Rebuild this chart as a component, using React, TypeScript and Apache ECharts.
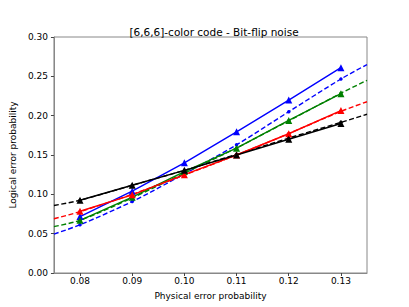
import React, { useEffect, useRef } from "react";
import * as echarts from "echarts";

const titleText = "[6,6,6]-color code - Bit-flip noise";
const xLabel = "Physical error probability";
const yLabel = "Logical error probability";

const pointX = [0.08, 0.09, 0.1, 0.11, 0.12, 0.13];
const fitX = [0.075, 0.08, 0.09, 0.1, 0.11, 0.12, 0.13, 0.135];
const xTicks = [0.08, 0.09, 0.1, 0.11, 0.12, 0.13];

// measured (solid, triangles)
const blueData = [0.0718, 0.1040, 0.1400, 0.1795, 0.2198, 0.2610];
const greenData = [0.0670, 0.0964, 0.1290, 0.1586, 0.1940, 0.2280];
const redData = [0.0785, 0.0994, 0.1250, 0.1500, 0.1770, 0.2065];
const blackData = [0.0925, 0.1115, 0.1305, 0.1500, 0.1700, 0.1900];

// fitted (dashed)
const blueFit = [0.0495, 0.0613, 0.0909, 0.1260, 0.1630, 0.2050, 0.2466, 0.2650];
const greenFit = [0.0590, 0.0670, 0.0955, 0.1270, 0.1590, 0.1935, 0.2285, 0.2450];
const redFit = [0.0690, 0.0780, 0.1000, 0.1245, 0.1500, 0.1772, 0.2055, 0.2177];
const blackFit = [0.0858, 0.0925, 0.1115, 0.1305, 0.1508, 0.1715, 0.1915, 0.2018];

const FONT = "DejaVu Sans";

export default function App() {
  const ref = useRef<HTMLDivElement>(null);
  useEffect(() => {
    if (!ref.current) return;
    const chart = echarts.init(ref.current, undefined, { renderer: "svg" });

    const solid = (name: string, color: string, ys: number[]) => ({
      name,
      type: "line",
      data: pointX.map((x, i) => [x, ys[i]]),
      symbol: "triangle",
      symbolSize: 7,
      showSymbol: true,
      lineStyle: { color, width: 1.4, type: "solid" },
      itemStyle: { color, borderWidth: 0 },
      z: 3,
    });
    const dashed = (name: string, color: string, ys: number[]) => ({
      name,
      type: "line",
      data: fitX.map((x, i) => {
        const isEnd = i === 0 || i === fitX.length - 1;
        return isEnd ? { value: [x, ys[i]], symbol: "none" } : { value: [x, ys[i]] };
      }),
      symbol: "circle",
      symbolSize: 3.5,
      showSymbol: true,
      smooth: 0.3,
      lineStyle: { color, width: 1.4, type: [5, 2.5] },
      itemStyle: { color, borderWidth: 0 },
      z: 2,
    });

    chart.setOption({
      animation: false,
      backgroundColor: "#ffffff",
      textStyle: { fontFamily: FONT },
      title: {
        text: titleText,
        left: 209,
        top: 21,
        textAlign: "center",
        textStyle: { fontFamily: FONT, fontSize: 10.5, fontWeight: "normal", color: "#000" },
      },
      grid: {
        left: 51,
        top: 37,
        right: 42,
        bottom: 34,
        show: true,
        borderColor: "#888",
        borderWidth: 1,
        backgroundColor: "transparent",
      },
      xAxis: {
        type: "value",
        min: 0.075,
        max: 0.135,
        name: xLabel,
        nameLocation: "middle",
        nameGap: 18,
        nameTextStyle: { fontFamily: FONT, fontSize: 9, color: "#000" },
        axisLine: { show: true, lineStyle: { color: "#888", width: 1 } },
        axisTick: { show: true, length: 3, customValues: xTicks, lineStyle: { color: "#444" } },
        axisLabel: {
          customValues: xTicks,
          formatter: (v: number) => v.toFixed(2),
          fontFamily: FONT,
          fontSize: 9,
          color: "#000",
          margin: 3,
        },
        splitLine: { show: false },
      },
      yAxis: {
        type: "value",
        min: 0,
        max: 0.3,
        interval: 0.05,
        name: yLabel,
        nameLocation: "middle",
        nameGap: 28,
        nameTextStyle: { fontFamily: FONT, fontSize: 9, color: "#000" },
        axisLine: { show: true, lineStyle: { color: "#888", width: 1 } },
        axisTick: { show: true, length: 3, lineStyle: { color: "#444" } },
        axisLabel: {
          formatter: (v: number) => v.toFixed(2),
          fontFamily: FONT,
          fontSize: 9,
          color: "#000",
          margin: 6,
        },
        splitLine: { show: false },
      },
      series: [
        dashed("blue fit", "#0000ff", blueFit),
        dashed("green fit", "#008000", greenFit),
        dashed("red fit", "#ff0000", redFit),
        dashed("black fit", "#000000", blackFit),
        solid("blue", "#0000ff", blueData),
        solid("green", "#008000", greenData),
        solid("red", "#ff0000", redData),
        solid("black", "#000000", blackData),
      ],
    });
    return () => chart.dispose();
  }, []);
  return (
    <div
      ref={ref}
      style={{ position: "fixed", left: 0, top: 0, width: 409, height: 307, background: "#fff" }}
    />
  );
}
